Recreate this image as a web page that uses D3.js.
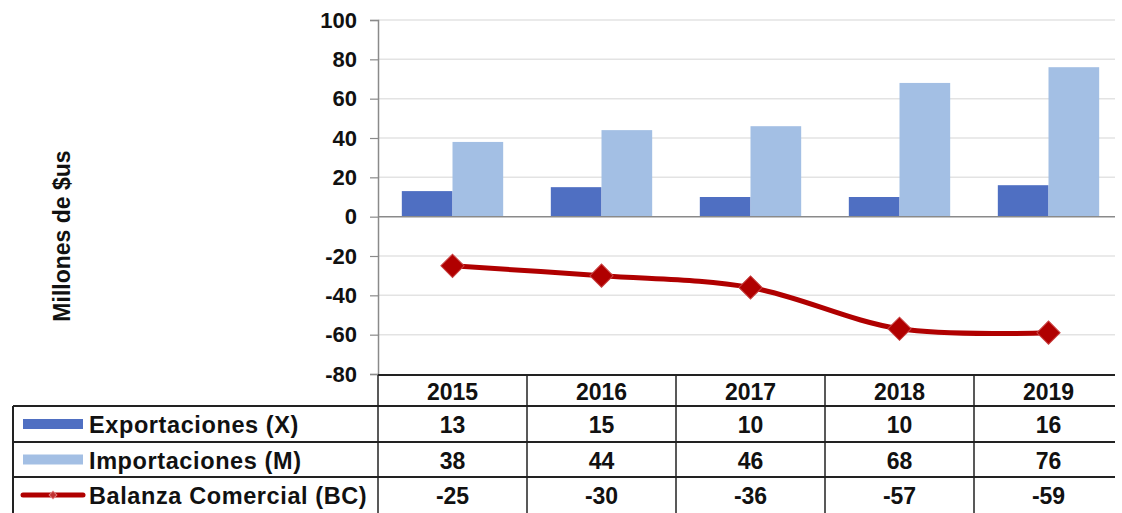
<!DOCTYPE html>
<html>
<head>
<meta charset="utf-8">
<script src="https://cdn.jsdelivr.net/npm/d3@7"></script>
<style>
  body { margin: 0; background: #fff; }
  svg text { font-family: 'Liberation Sans', Arial, sans-serif; font-weight: bold; fill: #111; }
</style>
</head>
<body>
<svg id="chart" width="1122" height="513"></svg>
<script>
const years = ['2015', '2016', '2017', '2018', '2019'];
const exportaciones = [13, 15, 10, 10, 16];
const importaciones = [38, 44, 46, 68, 76];
const balanza = [-25, -30, -36, -57, -59];
const yTicks = [-80, -60, -40, -20, 0, 20, 40, 60, 80, 100];
const seriesNames = ['Exportaciones (X)', 'Importaciones (M)', 'Balanza Comercial (BC)'];

const colExp = '#4f6fc2';
const colImp = '#a3bfe4';
const colBal = '#b00000';

const svg = d3.select('#chart');

const plotLeft = 378, plotRight = 1115, plotTop = 20, plotBottom = 374;
const tableLeft = 13;
const rowLines = [375, 406, 442, 477, 513];

let x = d3.scaleBand().domain(years).range([plotLeft, plotLeft + 5 * 149]);
let x1 = d3.scaleBand().domain(['X', 'M']).range([0, x.bandwidth()])
   .paddingInner(0).paddingOuter(0.47);
let y = d3.scaleLinear().domain([-80, 100]).range([plotBottom, plotTop]);

// gridlines
svg.append('g')
   .selectAll('line')
   .data(yTicks.filter(t => t !== 0 && t !== -80))
   .enter().append('line')
   .attr('x1', plotLeft).attr('x2', plotRight)
   .attr('y1', d => y(d)).attr('y2', d => y(d))
   .attr('stroke', '#e3e3e3').attr('stroke-width', 1.5);

// y axis
let yAxis = d3.axisLeft(y).tickValues(yTicks).tickSize(8).tickPadding(13)
   .tickFormat(d => String(d));
let gy = svg.append('g')
   .attr('transform', `translate(${plotLeft}, 0)`)
   .call(yAxis);
gy.select('.domain').attr('stroke', '#8a8a8a').attr('stroke-width', 1.5);
gy.selectAll('.tick line').attr('stroke', '#8a8a8a').attr('stroke-width', 1.2);
gy.selectAll('.tick text')
   .style('font-size', '22px')
   .attr('fill', '#111');

svg.append('text')
   .attr('transform', `translate(70, 236) rotate(-90)`)
   .style('text-anchor', 'middle')
   .style('font-size', '23px')
   .text('Millones de $us');

// bars
let groups = svg.selectAll('.year')
   .data(years)
   .enter().append('g')
   .attr('class', 'year')
   .attr('transform', d => `translate(${x(d)}, 0)`);

groups.append('rect')
   .attr('x', x1('X'))
   .attr('width', x1.bandwidth())
   .attr('y', (d, i) => y(exportaciones[i]))
   .attr('height', (d, i) => y(0) - y(exportaciones[i]))
   .attr('fill', colExp);

groups.append('rect')
   .attr('x', x1('M'))
   .attr('width', x1.bandwidth())
   .attr('y', (d, i) => y(importaciones[i]))
   .attr('height', (d, i) => y(0) - y(importaciones[i]))
   .attr('fill', colImp);

// zero line
svg.append('line')
   .attr('x1', plotLeft).attr('x2', plotRight)
   .attr('y1', y(0)).attr('y2', y(0))
   .attr('stroke', '#8a8a8a').attr('stroke-width', 1.5);

// balanza line
let line = d3.line()
   .x((d, i) => x(years[i]) + x.bandwidth() / 2)
   .y(d => y(d))
   .curve(d3.curveCatmullRom.alpha(0.5));

svg.append('path')
   .datum(balanza)
   .attr('d', line)
   .attr('fill', 'none')
   .attr('stroke', colBal)
   .attr('stroke-width', 5);

let diamond = d3.symbol().type(d3.symbolSquare).size(270);
svg.selectAll('.marker')
   .data(balanza)
   .enter().append('path')
   .attr('class', 'marker')
   .attr('d', diamond)
   .attr('transform', (d, i) => `translate(${x(years[i]) + x.bandwidth() / 2}, ${y(d)}) rotate(45)`)
   .attr('fill', colBal)
   .attr('stroke', '#c84040')
   .attr('stroke-width', 1);

// data table
let table = svg.append('g').attr('class', 'table');
let tableRight = plotRight;

// horizontal lines
table.append('line')
   .attr('x1', plotLeft).attr('x2', tableRight)
   .attr('y1', rowLines[0]).attr('y2', rowLines[0])
   .attr('stroke', '#222').attr('stroke-width', 2);
table.selectAll('.hline')
   .data(rowLines.slice(1, 4))
   .enter().append('line')
   .attr('class', 'hline')
   .attr('x1', tableLeft).attr('x2', tableRight)
   .attr('y1', d => d).attr('y2', d => d)
   .attr('stroke', '#222').attr('stroke-width', 2);

// vertical lines
table.append('line')
   .attr('x1', tableLeft).attr('x2', tableLeft)
   .attr('y1', rowLines[1]).attr('y2', 513)
   .attr('stroke', '#222').attr('stroke-width', 2);
table.selectAll('.vline')
   .data(years)
   .enter().append('line')
   .attr('class', 'vline')
   .attr('x1', d => x(d)).attr('x2', d => x(d))
   .attr('y1', rowLines[0]).attr('y2', 513)
   .attr('stroke', '#222').attr('stroke-width', 1.5);

// header
table.selectAll('.yearLabel')
   .data(years)
   .enter().append('text')
   .attr('x', d => x(d) + x.bandwidth() / 2)
   .attr('y', (rowLines[0] + rowLines[1]) / 2 + 1)
   .attr('dy', '0.36em')
   .style('text-anchor', 'middle')
   .style('font-size', '23px')
   .text(d => d);

let rows = [exportaciones, importaciones, balanza];
rows.forEach((vals, r) => {
   let cy = (rowLines[r + 1] + rowLines[r + 2]) / 2 + 1;
   table.selectAll(`.val${r}`)
      .data(vals)
      .enter().append('text')
      .attr('x', (d, i) => x(years[i]) + x.bandwidth() / 2)
      .attr('y', cy)
      .attr('dy', '0.36em')
      .style('text-anchor', 'middle')
      .style('font-size', '23px')
      .text(d => d);

   table.append('text')
      .attr('x', 89)
      .attr('y', cy)
      .attr('dy', '0.36em')
      .style('font-size', '23.5px')
      .style('letter-spacing', '0.6px')
      .text(seriesNames[r]);
});

// legend keys
let key1 = (rowLines[1] + rowLines[2]) / 2;
let key2 = (rowLines[2] + rowLines[3]) / 2;
let key3 = (rowLines[3] + rowLines[4]) / 2;
table.append('rect').attr('x', 23).attr('y', key1 - 5).attr('width', 60).attr('height', 10).attr('fill', colExp);
table.append('rect').attr('x', 23).attr('y', key2 - 5).attr('width', 60).attr('height', 10).attr('fill', colImp);
table.append('line').attr('x1', 23).attr('x2', 83).attr('y1', key3).attr('y2', key3)
   .attr('stroke', colBal).attr('stroke-width', 5).attr('stroke-linecap', 'round');
table.append('path')
   .attr('d', d3.symbol().type(d3.symbolSquare).size(30))
   .attr('transform', `translate(53, ${key3}) rotate(45)`)
   .attr('fill', '#c03030').attr('stroke', '#e08080').attr('stroke-width', 1);
</script>
</body>
</html>
